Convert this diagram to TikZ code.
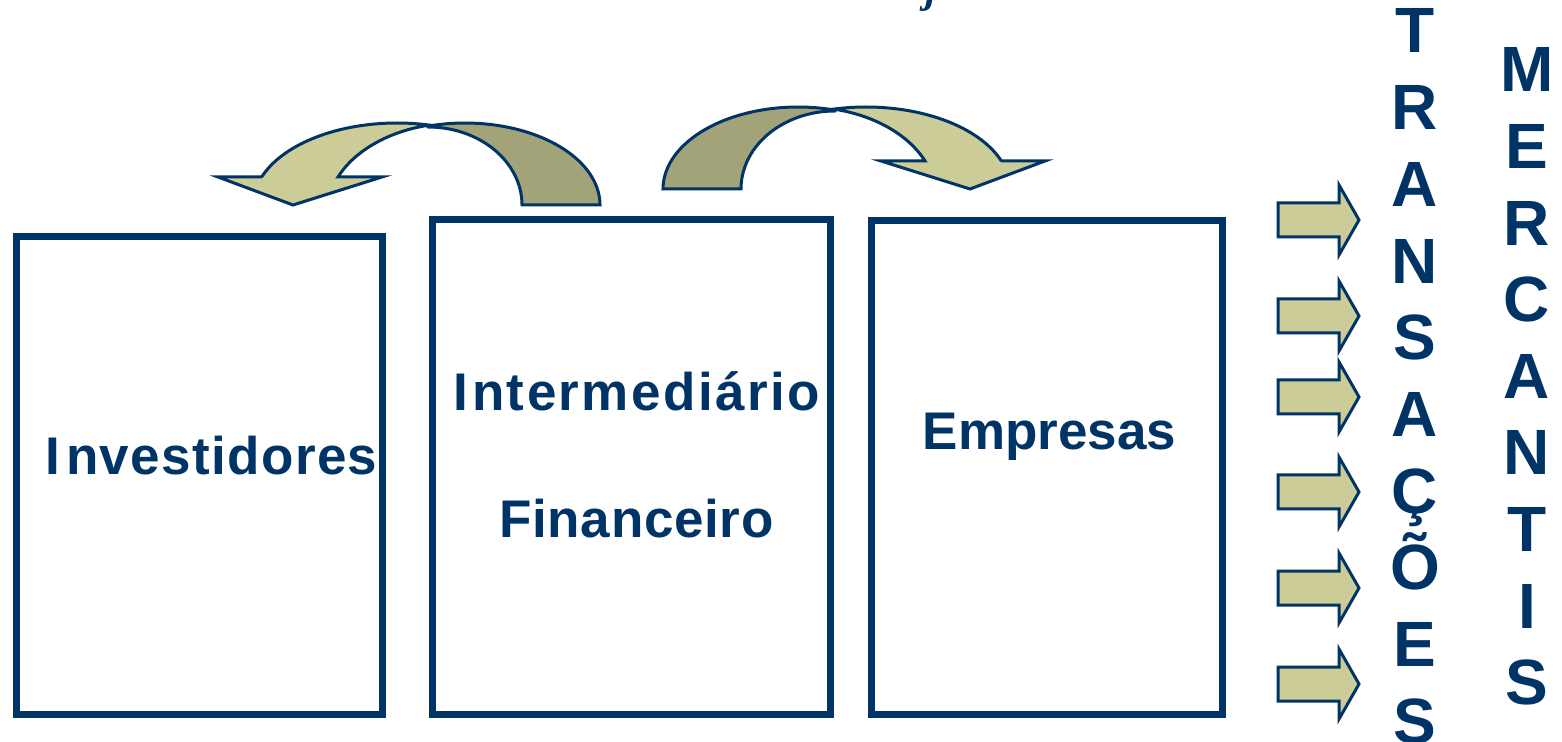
\documentclass[tikz,border=0pt]{standalone}
\usepackage{fontspec}
\setmainfont{Liberation Sans}
\newfontfamily\titlefont{Liberation Serif}
\definecolor{navy}{RGB}{0,51,102}
\definecolor{lightolive}{RGB}{204,204,153}
\definecolor{darkolive}{RGB}{163,163,122}
\tikzset{
  framebox/.style={draw=navy, line width=3.5pt, inner sep=0pt, outer sep=0pt},
  boxtext/.style={text=navy, font=\fontsize{26.5}{30}\selectfont\bfseries, inner sep=0pt},
  vletter/.style={text=navy, font=\fontsize{32}{36}\selectfont\bfseries, inner sep=0pt, anchor=base},
  bandlight/.style={draw=navy, fill=lightolive, line width=1.5pt, line join=miter},
  banddark/.style={draw=navy, fill=darkolive, line width=1.5pt, line join=miter},
  smallarrow/.style={draw=navy, fill=lightolive, line width=1.5pt, line join=miter}
}
\begin{document}
\begin{tikzpicture}[x=0.5pt,y=-0.5pt]
\useasboundingbox (0,0) rectangle (1562,742);

% fragment of a title cut off at the top edge
\node[text=navy, font=\titlefont\fontsize{21}{24}\selectfont\bfseries\itshape, inner sep=0pt, anchor=base west] (title) at (925,3) {j};

% boxes
\node[framebox, minimum width=182.75pt, minimum height=238.75pt] (inv) at (199.25,475.75) {};
\node[framebox, minimum width=199.25pt, minimum height=247.25pt] (inter) at (631.25,467.25) {};
\node[framebox, minimum width=175.25pt, minimum height=246.75pt] (emp) at (1046.75,467.75) {};

% box texts
\node[boxtext, anchor=base west] (invtxt) at (45,474) {I\kern3pt {\addfontfeature{LetterSpace=2.6}nvestidores}};
\node[boxtext, anchor=base west] (intertxt) at (453,411) {I\kern2pt {\addfontfeature{LetterSpace=4.6}ntermediário}};
\node[boxtext, anchor=base] (fintxt) at (636.5,538) {{\addfontfeature{LetterSpace=1.3}Financeiro}};
\node[boxtext, anchor=base] (emptxt) at (1049.5,450) {Empresas};

% curved arrows (left one, and its mirror image on the right)
\foreach \s/\t/\xs in {0/0/1, 1263/-16/-1}{
  \begin{scope}[shift={(\s,\t)}, xscale=\xs]
    \path[banddark] (600,205)
      -- plot[domain=0:106, samples=40] ({465+135*cos(\x)},{205-82*sin(\x)})
      -- plot[domain=90:0, samples=40] ({428+94*cos(\x)},{205-78*sin(\x)})
      -- cycle;
    \path[bandlight] (262,177)
      -- plot[domain=160:77, samples=40] ({397+144*cos(\x)},{205-82*sin(\x)})
      .. controls (390,131) and (355,150) .. (338,177)
      -- (382,177) -- (293,205) -- (218,177) -- cycle;
  \end{scope}
}

% small block arrows
\foreach \c in {220,316,397,492,588,684}{
  \path[smallarrow] (1278,\c-17) -- (1339,\c-17) -- (1339,\c-35) -- (1359,\c)
    -- (1339,\c+35) -- (1339,\c+17) -- (1278,\c+17) -- cycle;
}

% vertical words
\foreach \l [count=\i from 0] in {T,R,A,N,S,A,Ç,Õ,E,S}{
  \node[vletter] (tr\i) at (1415,{53+76.7*\i}) {\l};
}
\foreach \l [count=\i from 0] in {M,E,R,C,A,N,T,I,S}{
  \node[vletter] (me\i) at (1527,{92+76.6*\i}) {\l};
}
\end{tikzpicture}
\end{document}
